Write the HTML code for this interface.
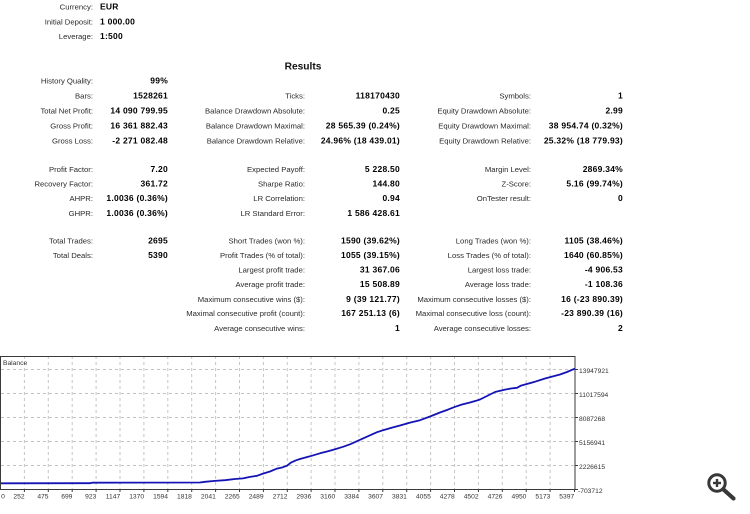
<!DOCTYPE html>
<html><head><meta charset="utf-8"><style>
html,body{margin:0;padding:0;background:#fff;}
svg{display:block;}
.l{font-family:"Liberation Sans",sans-serif;font-size:7.7px;fill:#2a2a2a;text-anchor:end;}
.v{font-family:"Liberation Sans",sans-serif;font-size:8.5px;font-weight:bold;fill:#000;text-anchor:end;letter-spacing:0.25px;}
.vl{font-family:"Liberation Sans",sans-serif;font-size:8.5px;font-weight:bold;fill:#000;letter-spacing:0.25px;}
.a{font-family:"Liberation Sans",sans-serif;font-size:6.7px;fill:#333;}
</style></head><body>
<svg width="750" height="514" viewBox="0 0 750 514" xmlns="http://www.w3.org/2000/svg">
<rect width="750" height="514" fill="#fff"/>
<!-- header -->
<text class="l" x="93" y="9.4">Currency:</text><text class="vl" x="100" y="9.4">EUR</text>
<text class="l" x="93" y="24.4">Initial Deposit:</text><text class="vl" x="100" y="24.4">1 000.00</text>
<text class="l" x="93" y="39.2">Leverage:</text><text class="vl" x="100" y="39.2">1:500</text>
<text x="303" y="69.3" style="font-family:'Liberation Sans',sans-serif;font-size:10.2px;font-weight:bold;fill:#111;text-anchor:middle">Results</text>

<!-- row 0 -->
<text class="l" x="93" y="83.6">History Quality:</text><text class="v" x="168" y="83.6">99%</text>
<!-- row 1 -->
<text class="l" x="93" y="98.5">Bars:</text><text class="v" x="168" y="98.5">1528261</text>
<text class="l" x="305" y="98.5">Ticks:</text><text class="v" x="400" y="98.5">118170430</text>
<text class="l" x="531" y="98.5">Symbols:</text><text class="v" x="623" y="98.5">1</text>
<!-- row 2 -->
<text class="l" x="93" y="113.4">Total Net Profit:</text><text class="v" x="168" y="113.4">14 090 799.95</text>
<text class="l" x="305" y="113.4">Balance Drawdown Absolute:</text><text class="v" x="400" y="113.4">0.25</text>
<text class="l" x="531" y="113.4">Equity Drawdown Absolute:</text><text class="v" x="623" y="113.4">2.99</text>
<!-- row 3 -->
<text class="l" x="93" y="128.6">Gross Profit:</text><text class="v" x="168" y="128.6">16 361 882.43</text>
<text class="l" x="305" y="128.6">Balance Drawdown Maximal:</text><text class="v" x="400" y="128.6">28 565.39 (0.24%)</text>
<text class="l" x="531" y="128.6">Equity Drawdown Maximal:</text><text class="v" x="623" y="128.6">38 954.74 (0.32%)</text>
<!-- row 4 -->
<text class="l" x="93" y="143.4">Gross Loss:</text><text class="v" x="168" y="143.4">-2 271 082.48</text>
<text class="l" x="305" y="143.4">Balance Drawdown Relative:</text><text class="v" x="400" y="143.4">24.96% (18 439.01)</text>
<text class="l" x="531" y="143.4">Equity Drawdown Relative:</text><text class="v" x="623" y="143.4">25.32% (18 779.93)</text>
<!-- row 6 -->
<text class="l" x="93" y="171.8">Profit Factor:</text><text class="v" x="168" y="171.8">7.20</text>
<text class="l" x="305" y="171.8">Expected Payoff:</text><text class="v" x="400" y="171.8">5 228.50</text>
<text class="l" x="531" y="171.8">Margin Level:</text><text class="v" x="623" y="171.8">2869.34%</text>
<!-- row 7 -->
<text class="l" x="93" y="186.5">Recovery Factor:</text><text class="v" x="168" y="186.5">361.72</text>
<text class="l" x="305" y="186.5">Sharpe Ratio:</text><text class="v" x="400" y="186.5">144.80</text>
<text class="l" x="531" y="186.5">Z-Score:</text><text class="v" x="623" y="186.5">5.16 (99.74%)</text>
<!-- row 8 -->
<text class="l" x="93" y="200.9">AHPR:</text><text class="v" x="168" y="200.9">1.0036 (0.36%)</text>
<text class="l" x="305" y="200.9">LR Correlation:</text><text class="v" x="400" y="200.9">0.94</text>
<text class="l" x="531" y="200.9">OnTester result:</text><text class="v" x="623" y="200.9">0</text>
<!-- row 9 -->
<text class="l" x="93" y="216">GHPR:</text><text class="v" x="168" y="216">1.0036 (0.36%)</text>
<text class="l" x="305" y="216">LR Standard Error:</text><text class="v" x="400" y="216">1 586 428.61</text>
<!-- row 11 -->
<text class="l" x="93" y="243.5">Total Trades:</text><text class="v" x="168" y="243.5">2695</text>
<text class="l" x="305" y="243.5">Short Trades (won %):</text><text class="v" x="400" y="243.5">1590 (39.62%)</text>
<text class="l" x="531" y="243.5">Long Trades (won %):</text><text class="v" x="623" y="243.5">1105 (38.46%)</text>
<!-- row 12 -->
<text class="l" x="93" y="257.9">Total Deals:</text><text class="v" x="168" y="257.9">5390</text>
<text class="l" x="305" y="257.9">Profit Trades (% of total):</text><text class="v" x="400" y="257.9">1055 (39.15%)</text>
<text class="l" x="531" y="257.9">Loss Trades (% of total):</text><text class="v" x="623" y="257.9">1640 (60.85%)</text>
<!-- row 13 -->
<text class="l" x="305" y="272.5">Largest profit trade:</text><text class="v" x="400" y="272.5">31 367.06</text>
<text class="l" x="531" y="272.5">Largest loss trade:</text><text class="v" x="623" y="272.5">-4 906.53</text>
<!-- row 14 -->
<text class="l" x="305" y="286.9">Average profit trade:</text><text class="v" x="400" y="286.9">15 508.89</text>
<text class="l" x="531" y="286.9">Average loss trade:</text><text class="v" x="623" y="286.9">-1 108.36</text>
<!-- row 15 -->
<text class="l" x="305" y="301.8">Maximum consecutive wins ($):</text><text class="v" x="400" y="301.8">9 (39 121.77)</text>
<text class="l" x="531" y="301.8">Maximum consecutive losses ($):</text><text class="v" x="623" y="301.8">16 (-23 890.39)</text>
<!-- row 16 -->
<text class="l" x="305" y="315.9">Maximal consecutive profit (count):</text><text class="v" x="400" y="315.9">167 251.13 (6)</text>
<text class="l" x="531" y="315.9">Maximal consecutive loss (count):</text><text class="v" x="623" y="315.9">-23 890.39 (16)</text>
<!-- row 17 -->
<text class="l" x="305" y="330.8">Average consecutive wins:</text><text class="v" x="400" y="330.8">1</text>
<text class="l" x="531" y="330.8">Average consecutive losses:</text><text class="v" x="623" y="330.8">2</text>

<!-- chart grid -->
<g stroke="#c4c4c4" stroke-width="1" stroke-dasharray="3,3" fill="none">
<line x1="1" y1="369.5" x2="575" y2="369.5"/>
<line x1="1" y1="393.5" x2="575" y2="393.5"/>
<line x1="1" y1="417.5" x2="575" y2="417.5"/>
<line x1="1" y1="441.5" x2="575" y2="441.5"/>
<line x1="1" y1="465.5" x2="575" y2="465.5"/>
<line x1="24.4" y1="356" x2="24.4" y2="489"/>
<line x1="48.3" y1="356" x2="48.3" y2="489"/>
<line x1="72.2" y1="356" x2="72.2" y2="489"/>
<line x1="96.1" y1="356" x2="96.1" y2="489"/>
<line x1="120" y1="356" x2="120" y2="489"/>
<line x1="143.9" y1="356" x2="143.9" y2="489"/>
<line x1="167.8" y1="356" x2="167.8" y2="489"/>
<line x1="191.7" y1="356" x2="191.7" y2="489"/>
<line x1="215.6" y1="356" x2="215.6" y2="489"/>
<line x1="239.5" y1="356" x2="239.5" y2="489"/>
<line x1="263.4" y1="356" x2="263.4" y2="489"/>
<line x1="287.3" y1="356" x2="287.3" y2="489"/>
<line x1="311.1" y1="356" x2="311.1" y2="489"/>
<line x1="335" y1="356" x2="335" y2="489"/>
<line x1="358.9" y1="356" x2="358.9" y2="489"/>
<line x1="382.8" y1="356" x2="382.8" y2="489"/>
<line x1="406.7" y1="356" x2="406.7" y2="489"/>
<line x1="430.6" y1="356" x2="430.6" y2="489"/>
<line x1="454.5" y1="356" x2="454.5" y2="489"/>
<line x1="478.4" y1="356" x2="478.4" y2="489"/>
<line x1="502.3" y1="356" x2="502.3" y2="489"/>
<line x1="526.2" y1="356" x2="526.2" y2="489"/>
<line x1="550.1" y1="356" x2="550.1" y2="489"/>
</g>
<!-- frame -->
<rect x="0.5" y="356.5" width="574.5" height="133" fill="none" stroke="#3a3a3a" stroke-width="1"/>
<!-- ticks -->
<g stroke="#3a3a3a" stroke-width="1">
<line x1="575" y1="369.5" x2="578" y2="369.5"/>
<line x1="575" y1="393.5" x2="578" y2="393.5"/>
<line x1="575" y1="417.5" x2="578" y2="417.5"/>
<line x1="575" y1="441.5" x2="578" y2="441.5"/>
<line x1="575" y1="465.5" x2="578" y2="465.5"/>
<line x1="575" y1="489.5" x2="578" y2="489.5"/>
<line x1="24.4" y1="489" x2="24.4" y2="492"/>
<line x1="48.3" y1="489" x2="48.3" y2="492"/>
<line x1="72.2" y1="489" x2="72.2" y2="492"/>
<line x1="96.1" y1="489" x2="96.1" y2="492"/>
<line x1="120" y1="489" x2="120" y2="492"/>
<line x1="143.9" y1="489" x2="143.9" y2="492"/>
<line x1="167.8" y1="489" x2="167.8" y2="492"/>
<line x1="191.7" y1="489" x2="191.7" y2="492"/>
<line x1="215.6" y1="489" x2="215.6" y2="492"/>
<line x1="239.5" y1="489" x2="239.5" y2="492"/>
<line x1="263.4" y1="489" x2="263.4" y2="492"/>
<line x1="287.3" y1="489" x2="287.3" y2="492"/>
<line x1="311.1" y1="489" x2="311.1" y2="492"/>
<line x1="335" y1="489" x2="335" y2="492"/>
<line x1="358.9" y1="489" x2="358.9" y2="492"/>
<line x1="382.8" y1="489" x2="382.8" y2="492"/>
<line x1="406.7" y1="489" x2="406.7" y2="492"/>
<line x1="430.6" y1="489" x2="430.6" y2="492"/>
<line x1="454.5" y1="489" x2="454.5" y2="492"/>
<line x1="478.4" y1="489" x2="478.4" y2="492"/>
<line x1="502.3" y1="489" x2="502.3" y2="492"/>
<line x1="526.2" y1="489" x2="526.2" y2="492"/>
<line x1="550.1" y1="489" x2="550.1" y2="492"/>
<line x1="574.5" y1="489" x2="574.5" y2="492"/>
</g>
<text class="a" x="3" y="364.8">Balance</text>
<!-- balance line -->
<polyline fill="none" stroke="#1414b4" stroke-width="1.8" stroke-linejoin="round" points="1,483.3 90,483.2 92,482.7 200,482.5 205,481.8 215,480.9 225,480.2 235,479 243,478.4 250,476.9 257,475.8 263,473.6 270,471.5 277,468.6 283,467.2 287,465.7 291,462.6 296,460.3 300,459 310,456.3 320,453.3 328,451.2 335,449.2 343,446.8 350,444.3 360,439.8 370,435.3 377,432.2 383,430.2 392,427.6 400,425.5 410,422.6 420,420.2 430,416.5 440,412.5 448,409.6 455,406.8 462,404.5 470,402.5 476,400.8 480,399.5 488,395.5 495,392 505,389.6 511,388.5 517,387.8 521,385.6 525,384.5 535,381.7 545,378.5 552,376.6 560,374.5 567,372 575,368.6"/>
<!-- y labels -->
<text class="a" x="579" y="372.8">13947921</text>
<text class="a" x="579" y="396.8">11017594</text>
<text class="a" x="579" y="420.8">8087268</text>
<text class="a" x="579" y="444.8">5156941</text>
<text class="a" x="579" y="468.8">2226615</text>
<text class="a" x="578" y="492.8">-703712</text>
<!-- x labels -->
<g class="a" style="text-anchor:end">
<text x="4.8" y="498.3">0</text>
<text x="24.6" y="498.3">252</text>
<text x="48.5" y="498.3">475</text>
<text x="72.4" y="498.3">699</text>
<text x="96.3" y="498.3">923</text>
<text x="120.2" y="498.3">1147</text>
<text x="144.1" y="498.3">1370</text>
<text x="168" y="498.3">1594</text>
<text x="191.9" y="498.3">1818</text>
<text x="215.8" y="498.3">2041</text>
<text x="239.7" y="498.3">2265</text>
<text x="263.6" y="498.3">2489</text>
<text x="287.5" y="498.3">2712</text>
<text x="311.3" y="498.3">2936</text>
<text x="335.2" y="498.3">3160</text>
<text x="359.1" y="498.3">3384</text>
<text x="383" y="498.3">3607</text>
<text x="406.9" y="498.3">3831</text>
<text x="430.8" y="498.3">4055</text>
<text x="454.7" y="498.3">4278</text>
<text x="478.6" y="498.3">4502</text>
<text x="502.5" y="498.3">4726</text>
<text x="526.4" y="498.3">4950</text>
<text x="550.3" y="498.3">5173</text>
<text x="574.2" y="498.3">5397</text>
</g>
<!-- magnifier icon -->
<g stroke="#383838" fill="none">
<circle cx="717" cy="483" r="8.2" stroke-width="3"/>
<line x1="723.5" y1="489.5" x2="733.5" y2="498.5" stroke-width="4.2" stroke-linecap="round"/>
<line x1="713" y1="483" x2="721" y2="483" stroke-width="2.4"/>
<line x1="717" y1="479" x2="717" y2="487" stroke-width="2.4"/>
</g>
</svg>
</body></html>
